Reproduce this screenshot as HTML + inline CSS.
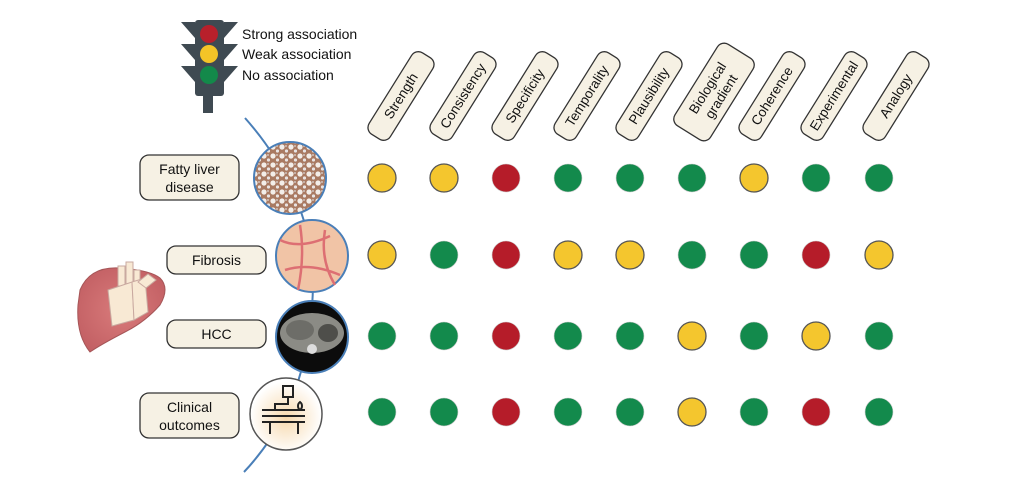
<!DOCTYPE html>
<html><head><meta charset="utf-8"><style>
html,body{margin:0;padding:0;background:#fff;}
svg{display:block;}
text{font-family:"Liberation Sans",Arial,sans-serif;fill:#111;}
</style></head><body>
<svg width="1024" height="481" viewBox="0 0 1024 481" xmlns="http://www.w3.org/2000/svg">
<defs>
<radialGradient id="ora" cx="0.5" cy="0.55" r="0.5"><stop offset="0" stop-color="#f7d9ae"/><stop offset="1" stop-color="#fff"/></radialGradient>
<radialGradient id="liv" cx="0.5" cy="0.5" r="0.6"><stop offset="0" stop-color="#d97b7b"/><stop offset="1" stop-color="#c25f63"/></radialGradient>
<pattern id="fat" width="9" height="9" patternUnits="userSpaceOnUse"><rect width="9" height="9" fill="#a97a62"/><circle cx="3" cy="3" r="2.6" fill="#f3eee9"/><circle cx="7.5" cy="7" r="1.6" fill="#e8e4e4"/><circle cx="7" cy="2" r="0.9" fill="#dcd8d8"/></pattern>
</defs>

<!-- traffic light -->
<g fill="#3f4a52">
<rect x="195" y="20" width="29" height="76" rx="3"/>
<polygon points="181,22 195,22 195,38"/><polygon points="238,22 224,22 224,38"/>
<polygon points="181,44 195,44 195,60"/><polygon points="238,44 224,44 224,60"/>
<polygon points="181,66 195,66 195,82"/><polygon points="238,66 224,66 224,82"/>
<rect x="203" y="94" width="10" height="19"/>
</g>
<circle cx="209" cy="34" r="9" fill="#b8202b"/>
<circle cx="209" cy="54" r="9" fill="#f4c427"/>
<circle cx="209" cy="75" r="9" fill="#13894a"/>
<text x="242" y="39" font-size="14">Strong association</text>
<text x="242" y="59" font-size="14">Weak association</text>
<text x="242" y="80" font-size="14">No association</text>

<!-- headers -->
<g font-size="13.5" text-anchor="middle" stroke="#333" stroke-width="1.3">
<g transform="translate(401,96) rotate(-58)"><rect x="-48" y="-12.5" width="96" height="25" rx="8" fill="#f6f1e4"/><text y="4.5" stroke="none">Strength</text></g>
<g transform="translate(463,96) rotate(-58)"><rect x="-48" y="-12.5" width="96" height="25" rx="8" fill="#f6f1e4"/><text y="4.5" stroke="none">Consistency</text></g>
<g transform="translate(525,96) rotate(-58)"><rect x="-48" y="-12.5" width="96" height="25" rx="8" fill="#f6f1e4"/><text y="4.5" stroke="none">Specificity</text></g>
<g transform="translate(587,96) rotate(-58)"><rect x="-48" y="-12.5" width="96" height="25" rx="8" fill="#f6f1e4"/><text y="4.5" stroke="none">Temporality</text></g>
<g transform="translate(649,96) rotate(-58)"><rect x="-48" y="-12.5" width="96" height="25" rx="8" fill="#f6f1e4"/><text y="4.5" stroke="none">Plausibility</text></g>
<g transform="translate(714,92) rotate(-58)"><rect x="-48" y="-21" width="96" height="42" rx="8" fill="#f6f1e4"/><text y="-3" stroke="none">Biological</text><text y="13" stroke="none">gradient</text></g>
<g transform="translate(772,96) rotate(-58)"><rect x="-48" y="-12.5" width="96" height="25" rx="8" fill="#f6f1e4"/><text y="4.5" stroke="none">Coherence</text></g>
<g transform="translate(834,96) rotate(-58)"><rect x="-48" y="-12.5" width="96" height="25" rx="8" fill="#f6f1e4"/><text y="4.5" stroke="none">Experimental</text></g>
<g transform="translate(896,96) rotate(-58)"><rect x="-48" y="-12.5" width="96" height="25" rx="8" fill="#f6f1e4"/><text y="4.5" stroke="none">Analogy</text></g>
</g>

<!-- blue line -->
<path d="M245,118 Q300,180 312,256 Q318,340 286,414 Q265,450 244,472" fill="none" stroke="#4a7fb8" stroke-width="2"/>

<!-- circles images -->
<circle cx="290" cy="178" r="36" fill="url(#fat)" stroke="#4a7fb8" stroke-width="2"/>
<circle cx="312" cy="256" r="36" fill="#f1c4a6" stroke="#4a7fb8" stroke-width="2"/>
<path d="M280,240 Q300,250 330,236 M285,270 Q310,262 340,275 M300,225 Q305,256 298,290 M325,230 Q320,260 335,285" stroke="#dd6f73" stroke-width="2.5" fill="none"/>
<circle cx="312" cy="337" r="36" fill="#0c0c0c" stroke="#4a7fb8" stroke-width="2"/>
<ellipse cx="312" cy="333" rx="32" ry="20" fill="#8b8b85"/>
<ellipse cx="300" cy="330" rx="14" ry="10" fill="#6d6d68"/><ellipse cx="328" cy="333" rx="10" ry="9" fill="#4e4e4a"/>
<circle cx="312" cy="349" r="5" fill="#ddd"/>
<circle cx="286" cy="414" r="36" fill="url(#ora)" stroke="#555" stroke-width="1.5"/>
<g stroke="#222" stroke-width="2" fill="none">
<rect x="283" y="386" width="10" height="11"/><path d="M288,397 V404 H275 V410 M262,410 H305 M262,416 H305 M262,422 H305 M270,422 V434 M298,422 V434 M300,410 a5,5 0 0 0 0,-8 a5,5 0 0 0 0,8"/>
</g>

<!-- liver -->
<path d="M80,290 Q90,266 120,268 Q150,270 160,278 Q170,288 160,305 Q145,322 125,332 Q100,345 90,352 Q76,335 78,305 Z" fill="url(#liv)" stroke="#a65658" stroke-width="1"/>
<g stroke="#c9a9a0" stroke-width="1" fill="#f8e9d4">
<rect x="118" y="266" width="7" height="20"/><rect x="126" y="262" width="7" height="22"/><rect x="134" y="270" width="6" height="16"/>
<polygon points="108,290 132,282 134,320 112,326"/><polygon points="132,282 145,278 148,312 134,320"/>
<polygon points="138,282 148,274 156,280 146,288" />
</g>

<!-- row labels -->
<g font-size="14" text-anchor="middle" stroke="#333" stroke-width="1.3">
<rect x="140" y="155" width="99" height="45" rx="9" fill="#f6f1e4"/><text x="189.5" y="174" stroke="none">Fatty liver</text><text x="189.5" y="192" stroke="none">disease</text>
<rect x="167" y="246" width="99" height="28" rx="9" fill="#f6f1e4"/><text x="216.5" y="265" stroke="none">Fibrosis</text>
<rect x="167" y="320" width="99" height="28" rx="9" fill="#f6f1e4"/><text x="216.5" y="339" stroke="none">HCC</text>
<rect x="140" y="393" width="99" height="45" rx="9" fill="#f6f1e4"/><text x="189.5" y="412" stroke="none">Clinical</text><text x="189.5" y="430" stroke="none">outcomes</text>
</g>

<!-- dots -->
<g stroke-width="1.3">
<circle cx="382" cy="178" r="14" fill="#f4c62e" stroke="#555"/>
<circle cx="444" cy="178" r="14" fill="#f4c62e" stroke="#555"/>
<circle cx="506" cy="178" r="14" fill="#b51c29" stroke="#ccc" stroke-width="0.6"/>
<circle cx="568" cy="178" r="14" fill="#138a4c" stroke="#ccc" stroke-width="0.6"/>
<circle cx="630" cy="178" r="14" fill="#138a4c" stroke="#ccc" stroke-width="0.6"/>
<circle cx="692" cy="178" r="14" fill="#138a4c" stroke="#ccc" stroke-width="0.6"/>
<circle cx="754" cy="178" r="14" fill="#f4c62e" stroke="#555"/>
<circle cx="816" cy="178" r="14" fill="#138a4c" stroke="#ccc" stroke-width="0.6"/>
<circle cx="879" cy="178" r="14" fill="#138a4c" stroke="#ccc" stroke-width="0.6"/>
<circle cx="382" cy="255" r="14" fill="#f4c62e" stroke="#555"/>
<circle cx="444" cy="255" r="14" fill="#138a4c" stroke="#ccc" stroke-width="0.6"/>
<circle cx="506" cy="255" r="14" fill="#b51c29" stroke="#ccc" stroke-width="0.6"/>
<circle cx="568" cy="255" r="14" fill="#f4c62e" stroke="#555"/>
<circle cx="630" cy="255" r="14" fill="#f4c62e" stroke="#555"/>
<circle cx="692" cy="255" r="14" fill="#138a4c" stroke="#ccc" stroke-width="0.6"/>
<circle cx="754" cy="255" r="14" fill="#138a4c" stroke="#ccc" stroke-width="0.6"/>
<circle cx="816" cy="255" r="14" fill="#b51c29" stroke="#ccc" stroke-width="0.6"/>
<circle cx="879" cy="255" r="14" fill="#f4c62e" stroke="#555"/>
<circle cx="382" cy="336" r="14" fill="#138a4c" stroke="#ccc" stroke-width="0.6"/>
<circle cx="444" cy="336" r="14" fill="#138a4c" stroke="#ccc" stroke-width="0.6"/>
<circle cx="506" cy="336" r="14" fill="#b51c29" stroke="#ccc" stroke-width="0.6"/>
<circle cx="568" cy="336" r="14" fill="#138a4c" stroke="#ccc" stroke-width="0.6"/>
<circle cx="630" cy="336" r="14" fill="#138a4c" stroke="#ccc" stroke-width="0.6"/>
<circle cx="692" cy="336" r="14" fill="#f4c62e" stroke="#555"/>
<circle cx="754" cy="336" r="14" fill="#138a4c" stroke="#ccc" stroke-width="0.6"/>
<circle cx="816" cy="336" r="14" fill="#f4c62e" stroke="#555"/>
<circle cx="879" cy="336" r="14" fill="#138a4c" stroke="#ccc" stroke-width="0.6"/>
<circle cx="382" cy="412" r="14" fill="#138a4c" stroke="#ccc" stroke-width="0.6"/>
<circle cx="444" cy="412" r="14" fill="#138a4c" stroke="#ccc" stroke-width="0.6"/>
<circle cx="506" cy="412" r="14" fill="#b51c29" stroke="#ccc" stroke-width="0.6"/>
<circle cx="568" cy="412" r="14" fill="#138a4c" stroke="#ccc" stroke-width="0.6"/>
<circle cx="630" cy="412" r="14" fill="#138a4c" stroke="#ccc" stroke-width="0.6"/>
<circle cx="692" cy="412" r="14" fill="#f4c62e" stroke="#555"/>
<circle cx="754" cy="412" r="14" fill="#138a4c" stroke="#ccc" stroke-width="0.6"/>
<circle cx="816" cy="412" r="14" fill="#b51c29" stroke="#ccc" stroke-width="0.6"/>
<circle cx="879" cy="412" r="14" fill="#138a4c" stroke="#ccc" stroke-width="0.6"/>
</g>
</svg>
</body></html>
